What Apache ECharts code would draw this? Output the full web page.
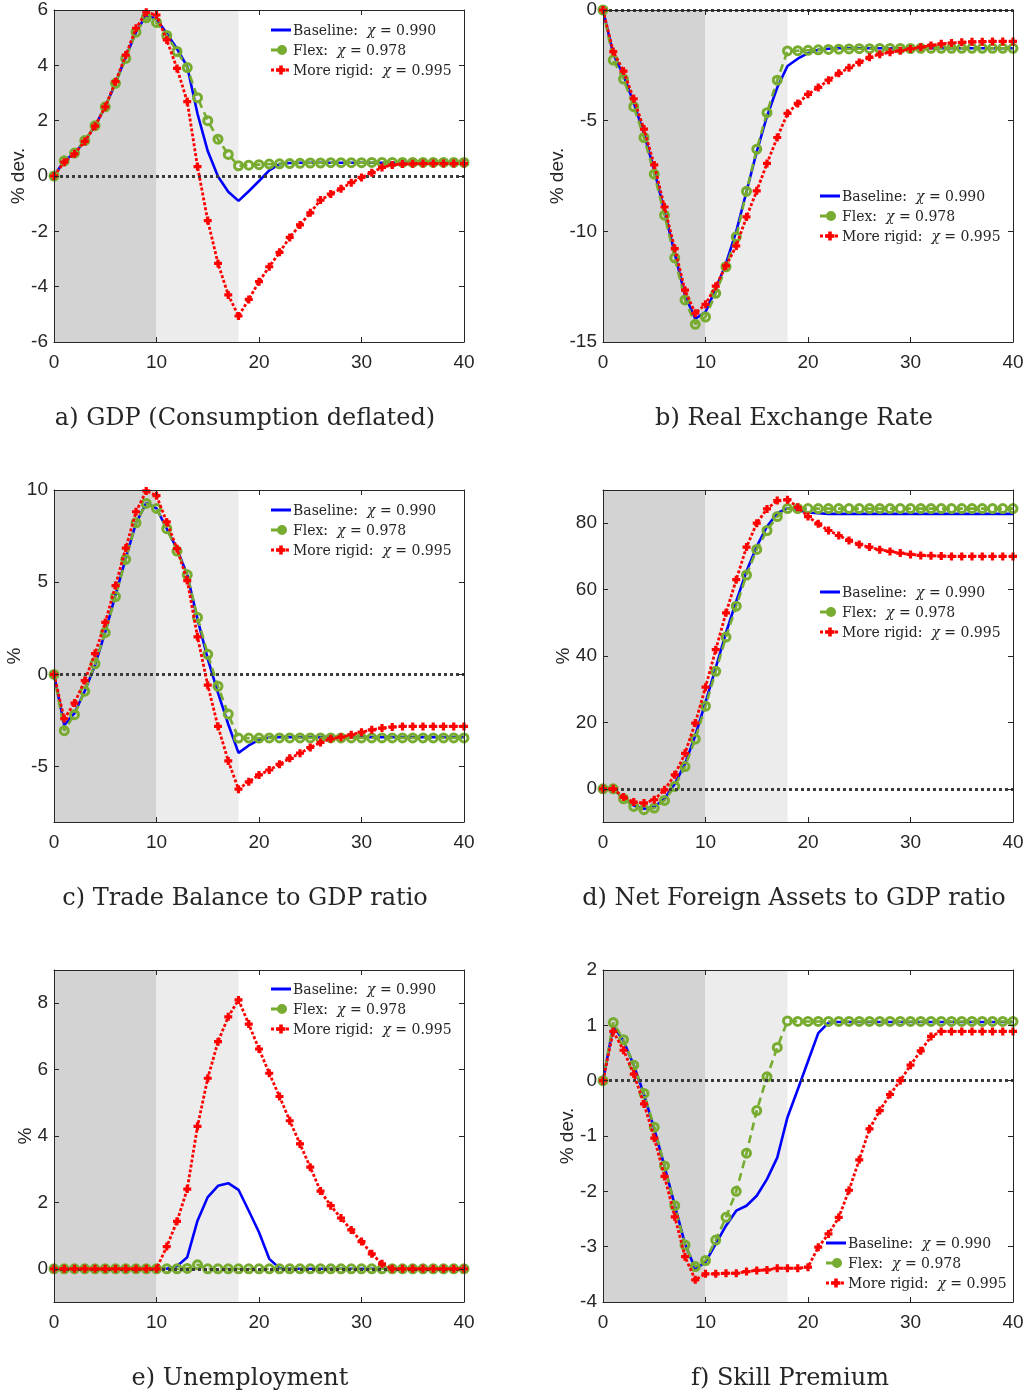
<!DOCTYPE html>
<html>
<head>
<meta charset="utf-8">
<script src="https://cdn.jsdelivr.net/npm/echarts@6/dist/echarts.min.js"></script>
<style>
html,body{margin:0;padding:0;background:#fff;}
#chart{width:1028px;height:1393px;}
</style>
</head>
<body>
<div id="chart"></div>
<script>
// ---------- DATA ----------
const periods = Array.from({length: 41}, (_, i) => i);
const xTicks = [0, 10, 20, 30, 40];
const seriesNames = ['Baseline:  χ = 0.990', 'Flex:  χ = 0.978', 'More rigid:  χ = 0.995'];
const panelTitles = ['a) GDP (Consumption deflated)', 'b) Real Exchange Rate', 'c) Trade Balance to GDP ratio',
  'd) Net Foreign Assets to GDP ratio', 'e) Unemployment', 'f) Skill Premium'];
const yNames = ['% dev.', '% dev.', '%', '%', '%', '% dev.'];
const yTicksA = [-6, -4, -2, 0, 2, 4, 6];
const yTicksB = [-15, -10, -5, 0];
const yTicksC = [-5, 0, 5, 10];
const yTicksD = [0, 20, 40, 60, 80];
const yTicksE = [0, 2, 4, 6, 8];
const yTicksF = [-4, -3, -2, -1, 0, 1, 2];
const shadeBands = [[0, 10], [10, 18]];

// a) GDP
const baseA = [0, 0.55, 0.82, 1.27, 1.81, 2.5, 3.35, 4.3, 5.2, 5.82, 5.68, 5.15, 4.6, 3.95, 2.25, 0.9, -0.02, -0.57, -0.9, -0.55, -0.18, 0.2, 0.43, 0.47,
  0.48, 0.48, 0.48, 0.48, 0.48, 0.48, 0.48, 0.48, 0.48, 0.48, 0.48, 0.48, 0.48, 0.48, 0.48, 0.48, 0.48];
const flexA = [0, 0.55, 0.83, 1.28, 1.82, 2.5, 3.35, 4.25, 5.2, 5.72, 5.55, 5.08, 4.5, 3.92, 2.83, 2.0, 1.33, 0.78, 0.37,
  0.39, 0.41, 0.43, 0.44, 0.45, 0.46, 0.47, 0.47, 0.48, 0.48, 0.48, 0.48, 0.49, 0.49, 0.49, 0.49, 0.49, 0.49, 0.49, 0.49, 0.49, 0.49];
const rigidA = [0, 0.5, 0.8, 1.25, 1.8, 2.5, 3.41, 4.37, 5.34, 5.92, 5.82, 4.92, 3.89, 2.69, 0.34, -1.61, -3.16, -4.3, -5.06,
  -4.46, -3.82, -3.28, -2.76, -2.22, -1.77, -1.33, -0.87, -0.65, -0.46, -0.24, -0.05, 0.12, 0.31, 0.4, 0.43, 0.44, 0.45, 0.45, 0.45, 0.45, 0.45];

// b) Real exchange rate
const baseB = [0, -2.0, -2.95, -4.2, -5.6, -7.25, -9.1, -11.0, -12.9, -13.95, -13.65, -12.6, -11.45, -10.0, -8.2, -6.4, -4.8, -3.5, -2.53,
  -2.2, -1.95, -1.8, -1.75, -1.73, -1.73, -1.73, -1.73, -1.73, -1.73, -1.73, -1.73, -1.73, -1.73, -1.73, -1.73, -1.73, -1.73, -1.73, -1.73, -1.73, -1.73];
const flexB = [0, -2.26, -3.12, -4.37, -5.76, -7.42, -9.27, -11.2, -13.1, -14.2, -13.87, -12.8, -11.6, -10.25, -8.19, -6.29, -4.64, -3.17, -1.85,
  -1.84, -1.82, -1.8, -1.78, -1.77, -1.76, -1.75, -1.75, -1.74, -1.74, -1.74, -1.74, -1.73, -1.73, -1.73, -1.73, -1.73, -1.73, -1.73, -1.73, -1.73, -1.73];
const rigidB = [0, -1.88, -2.76, -4.01, -5.38, -7.0, -8.9, -10.78, -12.66, -13.7, -13.3, -12.48, -11.56, -10.66, -9.35, -8.17, -6.93, -5.76, -4.67,
  -4.22, -3.81, -3.5, -3.17, -2.86, -2.61, -2.37, -2.14, -2.0, -1.91, -1.84, -1.76, -1.68, -1.6, -1.53, -1.49, -1.46, -1.44, -1.43, -1.42, -1.42, -1.42];

// c) Trade balance to GDP
const baseC = [0, -2.75, -2.1, -0.9, 0.5, 2.3, 4.3, 6.3, 8.2, 9.3, 9.0, 7.9, 6.8, 5.4, 3.0, 0.85, -1.0, -2.7, -4.25,
  -3.85, -3.55, -3.42, -3.4, -3.4, -3.4, -3.4, -3.4, -3.4, -3.4, -3.4, -3.4, -3.4, -3.4, -3.4, -3.4, -3.4, -3.4, -3.4, -3.4, -3.4, -3.4];
const flexC = [0, -3.05, -2.18, -0.91, 0.58, 2.27, 4.22, 6.24, 8.22, 9.27, 9.0, 7.9, 6.69, 5.4, 3.09, 1.09, -0.64, -2.15, -3.45,
  -3.45, -3.45, -3.44, -3.44, -3.44, -3.44, -3.44, -3.44, -3.44, -3.44, -3.44, -3.44, -3.44, -3.44, -3.44, -3.44, -3.44, -3.44, -3.44, -3.44, -3.44, -3.44];
const rigidC = [0, -2.4, -1.55, -0.33, 1.13, 2.82, 4.82, 6.85, 8.82, 9.95, 9.69, 8.27, 6.82, 5.09, 2.04, -0.58, -2.82, -4.69, -6.22,
  -5.82, -5.45, -5.18, -4.87, -4.55, -4.27, -3.96, -3.69, -3.49, -3.4, -3.27, -3.13, -3.0, -2.91, -2.85, -2.82, -2.82, -2.82, -2.82, -2.82, -2.82, -2.82];

// d) Net foreign assets to GDP
const baseD = [0, 0, -3, -5, -6, -5.5, -3, 1.5, 7.5, 16, 26, 36.5, 47, 56.5, 65.5, 73, 79, 83, 84.5, 84, 83.2, 83,
  82.8, 82.8, 82.8, 82.8, 82.8, 82.8, 82.8, 82.8, 82.8, 82.8, 82.8, 82.8, 82.8, 82.8, 82.8, 82.8, 82.8, 82.8, 82.8];
const flexD = [0, 0, -3.0, -5.3, -6.3, -5.8, -3.5, 0.7, 6.7, 15.0, 24.9, 35.4, 45.7, 55.0, 64.4, 72.1, 77.8, 82.0, 84.4,
  84.4, 84.4, 84.4, 84.4, 84.4, 84.4, 84.4, 84.4, 84.4, 84.4, 84.4, 84.4, 84.4, 84.4, 84.4, 84.4, 84.4, 84.4, 84.4, 84.4, 84.4, 84.4];
const rigidD = [0, 0, -2.5, -4.0, -4.3, -3.3, -0.3, 4.2, 10.7, 19.8, 30.6, 41.9, 53.0, 63.0, 72.8, 80.0, 84.3, 86.8, 87.1,
  84.8, 82.0, 79.8, 77.8, 76.3, 74.8, 73.6, 72.8, 72.0, 71.5, 71.0, 70.6, 70.3, 70.2, 70.1, 70.0, 70.0, 70.0, 70.0, 70.0, 70.0, 70.0];

// e) Unemployment
const baseE = [0, 0, 0, 0, 0, 0, 0, 0, 0, 0, 0, 0, 0.08, 0.35, 1.45, 2.16, 2.5, 2.58, 2.38, 1.75, 1.1, 0.3, 0.02,
  0, 0, 0, 0, 0, 0, 0, 0, 0, 0, 0, 0, 0, 0, 0, 0, 0, 0];
const flexE = [0, 0, 0, 0, 0, 0, 0, 0, 0, 0, 0, 0, 0, 0.01, 0.12, 0, 0, 0, 0, 0, 0, 0, 0,
  0, 0, 0, 0, 0, 0, 0, 0, 0, 0, 0, 0, 0, 0, 0, 0, 0, 0];
const rigidE = [0, 0, 0, 0, 0, 0, 0, 0, 0, 0, 0, 0.67, 1.43, 2.4, 4.29, 5.74, 6.84, 7.59, 8.1, 7.37, 6.62, 5.89, 5.19,
  4.46, 3.76, 3.06, 2.34, 1.9, 1.53, 1.17, 0.82, 0.45, 0.15, 0, 0, 0, 0, 0, 0, 0, 0];

// f) Skill premium
const baseF = [0, 0.99, 0.72, 0.28, -0.25, -0.87, -1.55, -2.25, -2.95, -3.4, -3.28, -2.95, -2.62, -2.35, -2.26, -2.08, -1.78, -1.39, -0.66,
  -0.16, 0.35, 0.86, 1.05, 1.06, 1.06, 1.06, 1.06, 1.06, 1.06, 1.06, 1.06, 1.06, 1.06, 1.06, 1.06, 1.06, 1.06, 1.06, 1.06, 1.06, 1.06];
const flexF = [0, 1.05, 0.74, 0.28, -0.23, -0.84, -1.54, -2.26, -2.97, -3.36, -3.25, -2.88, -2.47, -2.0, -1.31, -0.54, 0.07, 0.6, 1.08,
  1.07, 1.07, 1.07, 1.07, 1.07, 1.07, 1.07, 1.07, 1.07, 1.07, 1.07, 1.07, 1.07, 1.07, 1.07, 1.07, 1.07, 1.07, 1.07, 1.07, 1.07, 1.07];
const rigidF = [0, 0.89, 0.55, 0.12, -0.42, -1.04, -1.73, -2.46, -3.18, -3.6, -3.49, -3.49, -3.48, -3.48, -3.45, -3.43, -3.42, -3.39, -3.39,
  -3.39, -3.37, -3.01, -2.77, -2.47, -1.98, -1.43, -0.87, -0.54, -0.25, 0.0, 0.28, 0.54, 0.8, 0.89, 0.89, 0.89, 0.89, 0.89, 0.89, 0.89, 0.89];

// ---------- LAYOUT / STYLE ----------
const panels = [
  {base: baseA, flex: flexA, rigid: rigidA, yMin: -6, yMax: 6, ticks: yTicksA, left: 54, top: 10, nameGap: 26, legend: [271, 30], title: [245, 419]},
  {base: baseB, flex: flexB, rigid: rigidB, yMin: -15, yMax: 0, ticks: yTicksB, left: 603, top: 10, nameGap: 36, legend: [820, 196], title: [794, 419]},
  {base: baseC, flex: flexC, rigid: rigidC, yMin: -8, yMax: 10, ticks: yTicksC, left: 54, top: 490, nameGap: 30, legend: [271, 510], title: [245, 899]},
  {base: baseD, flex: flexD, rigid: rigidD, yMin: -10, yMax: 90, ticks: yTicksD, left: 603, top: 490, nameGap: 30, legend: [820, 592], title: [794, 899]},
  {base: baseE, flex: flexE, rigid: rigidE, yMin: -1, yMax: 9, ticks: yTicksE, left: 54, top: 970, nameGap: 19, legend: [271, 989], title: [240, 1379]},
  {base: baseF, flex: flexF, rigid: rigidF, yMin: -4, yMax: 2, ticks: yTicksF, left: 603, top: 970, nameGap: 26, legend: [826, 1243], title: [790, 1379]}
];
const W = 410, H = 332;
const BLUE = '#0000ff', GREEN = '#77ac30', RED = '#ff0000', AX = '#262626';
const SANS = '"Liberation Sans", Arial, sans-serif';
const SERIF = '"DejaVu Serif", "Liberation Serif", serif';
const plusPath = 'path://M3,0H7V3H10V7H7V10H3V7H0V3H3Z';

function plusPoints(cx, cy, s) {
  const a = s / 2, b = s * 0.2;
  return [[cx - b, cy - a], [cx + b, cy - a], [cx + b, cy - b], [cx + a, cy - b], [cx + a, cy + b], [cx + b, cy + b],
    [cx + b, cy + a], [cx - b, cy + a], [cx - b, cy + b], [cx - a, cy + b], [cx - a, cy - b], [cx - b, cy - b]];
}

const grid = [], xAxis = [], yAxis = [], series = [], graphic = [];
panels.forEach((p, i) => {
  grid.push({left: p.left, top: p.top, width: W, height: H, show: false, containLabel: false, outerBoundsMode: 'none'});
  const axisLineStyle = {show: true, onZero: false, lineStyle: {color: AX, width: 1}};
  const tick = {show: true, inside: true, length: 5, lineStyle: {color: AX, width: 1}};
  xAxis.push({type: 'value', gridIndex: i, min: 0, max: 40, interval: 10, position: 'bottom', z: 10,
    axisLine: axisLineStyle, axisTick: tick, splitLine: {show: false},
    axisLabel: {show: true, fontSize: 19, color: AX, fontFamily: SANS, margin: 11, customValues: xTicks}});
  xAxis.push({type: 'value', gridIndex: i, min: 0, max: 40, interval: 10, position: 'top', z: 10,
    axisLine: axisLineStyle, axisTick: tick, splitLine: {show: false}, axisLabel: {show: false}});
  yAxis.push({type: 'value', gridIndex: i, min: p.yMin, max: p.yMax, position: 'left', z: 10,
    name: yNames[i], nameLocation: 'middle', nameGap: p.nameGap, nameMoveOverlap: false,
    nameTextStyle: {fontSize: 19, color: AX, fontFamily: SANS},
    axisLine: axisLineStyle, splitLine: {show: false},
    axisTick: Object.assign({}, tick, {customValues: p.ticks}),
    axisLabel: {show: true, fontSize: 19, color: AX, fontFamily: SANS, margin: 6, customValues: p.ticks}});
  yAxis.push({type: 'value', gridIndex: i, min: p.yMin, max: p.yMax, position: 'right', z: 10,
    axisLine: axisLineStyle, splitLine: {show: false},
    axisTick: Object.assign({}, tick, {customValues: p.ticks}),
    axisLabel: {show: false, customValues: p.ticks}});

  const xi = 2 * i, yi = 2 * i;
  series.push({type: 'line', xAxisIndex: xi, yAxisIndex: yi, data: [], silent: true, z: 1,
    markArea: {silent: true, data: [
      [{xAxis: shadeBands[0][0], itemStyle: {color: '#d3d3d3'}}, {xAxis: shadeBands[0][1]}],
      [{xAxis: shadeBands[1][0], itemStyle: {color: '#ececec'}}, {xAxis: shadeBands[1][1]}]
    ]},
    markLine: {silent: true, symbol: 'none', label: {show: false},
      lineStyle: {color: '#3c3c3c', width: 3, type: [3, 3], cap: 'butt'},
      data: [{yAxis: 0}]}
  });
  const pts = arr => periods.map((t, k) => [t, arr[k]]);
  series.push({name: seriesNames[0], type: 'line', xAxisIndex: xi, yAxisIndex: yi, data: pts(p.base), z: 3,
    symbol: 'none', lineStyle: {color: BLUE, width: 2.6}, itemStyle: {color: BLUE}});
  series.push({name: seriesNames[1], type: 'line', xAxisIndex: xi, yAxisIndex: yi, data: pts(p.flex), z: 4,
    symbol: 'circle', symbolSize: 8, showAllSymbol: true,
    lineStyle: {color: GREEN, width: 2.6, type: [8, 5]},
    itemStyle: {color: 'rgba(0,0,0,0)', borderColor: GREEN, borderWidth: 3}});
  series.push({name: seriesNames[2], type: 'line', xAxisIndex: xi, yAxisIndex: yi, data: pts(p.rigid), z: 5,
    symbol: plusPath, symbolSize: 8, showAllSymbol: true,
    lineStyle: {color: RED, width: 2.8, type: [3, 2], cap: 'butt'},
    itemStyle: {color: RED}});

  // manual legend
  const lx = p.legend[0], ly = p.legend[1];
  const rich = {
    n: {fontFamily: SERIF, fontSize: 14, fill: AX},
    i: {fontFamily: SERIF, fontSize: 14, fontStyle: 'italic', fill: AX}
  };
  const children = [
    {type: 'line', shape: {x1: lx, y1: ly, x2: lx + 20, y2: ly}, style: {stroke: BLUE, lineWidth: 3}},
    {type: 'line', shape: {x1: lx, y1: ly + 20, x2: lx + 10, y2: ly + 20}, style: {stroke: GREEN, lineWidth: 3}},
    {type: 'circle', shape: {cx: lx + 11, cy: ly + 20, r: 5}, style: {fill: GREEN}},
    {type: 'line', shape: {x1: lx, y1: ly + 40, x2: lx + 20, y2: ly + 40}, style: {stroke: RED, lineWidth: 3, lineDash: [3, 2]}},
    {type: 'polygon', shape: {points: plusPoints(lx + 10, ly + 40, 9)}, style: {fill: RED}}
  ];
  seriesNames.forEach((nm, k) => {
    const s = nm.split('χ');
    children.push({type: 'text', x: lx + 22, y: ly + 20 * k + 1,
      style: {text: '{n|' + s[0] + '}{i|χ}{n|' + s[1] + '}', rich: rich, verticalAlign: 'middle', align: 'left'}});
  });
  graphic.push({type: 'group', silent: true, z: 20, children: children});

  graphic.push({type: 'text', x: p.title[0], y: p.title[1], silent: true,
    style: {text: panelTitles[i], fontFamily: SERIF, fontSize: 24, fill: AX, align: 'center', verticalAlign: 'middle'}});
});

const chart = echarts.init(document.getElementById('chart'), null, {renderer: 'canvas'});
chart.setOption({
  animation: false,
  backgroundColor: '#ffffff',
  grid, xAxis, yAxis, series, graphic
});
</script>
</body>
</html>
